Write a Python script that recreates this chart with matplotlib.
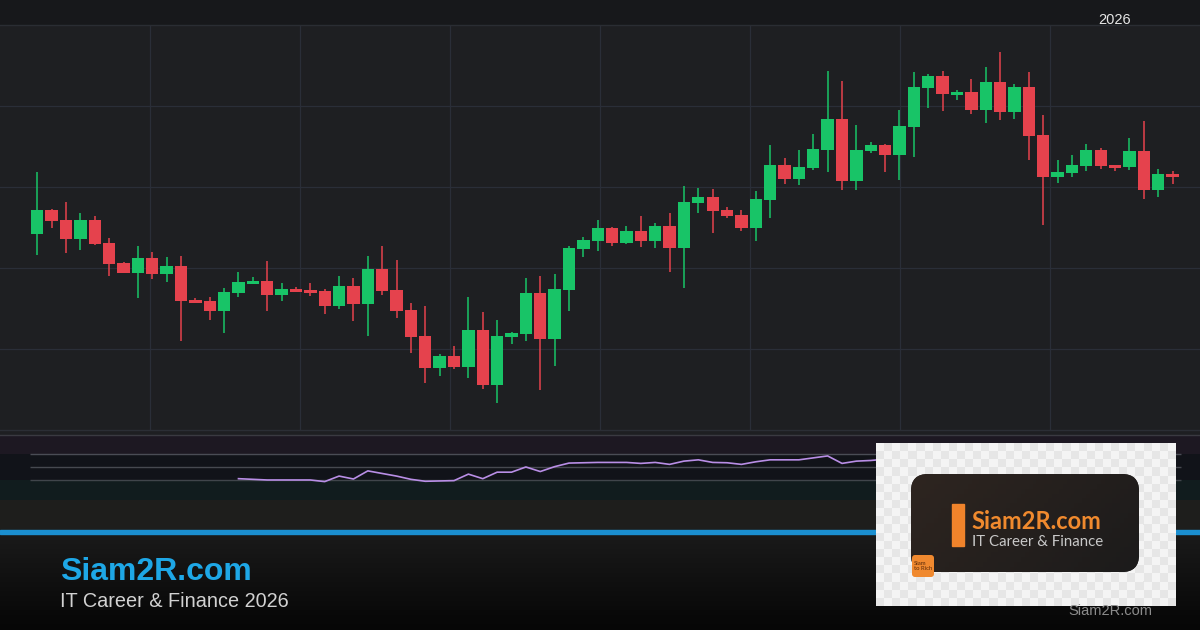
import numpy as np
import matplotlib.pyplot as plt
from matplotlib.patches import Rectangle, FancyBboxPatch
from matplotlib.colors import LinearSegmentedColormap, ListedColormap

# Daily candles (price units, 80 sessions)
opens = [196, 220, 210, 191, 210, 187, 167, 157, 172, 156,
         164, 130, 129, 119, 137, 146, 149, 135, 141, 140,
         139, 124, 144, 126, 161, 140, 120, 94, 62, 74,
         63, 100, 45, 93, 96, 137, 91, 140, 181, 189,
         202, 187, 199, 189, 204, 182, 227, 233, 220, 215,
         202, 230, 265, 251, 262, 280, 311, 249, 279, 285,
         275, 303, 342, 354, 335, 338, 320, 348, 318, 343,
         295, 253, 257, 264, 280, 265, 263, 279, 240, 256]
highs = [258, 221, 228, 217, 214, 192, 168, 184, 178, 173,
         174, 132, 133, 142, 158, 153, 169, 147, 143, 147,
         141, 154, 152, 174, 184, 170, 127, 124, 76, 84,
         133, 118, 110, 98, 152, 154, 156, 184, 193, 210,
         203, 204, 214, 207, 217, 244, 242, 241, 223, 220,
         239, 285, 272, 280, 296, 359, 349, 305, 288, 286,
         320, 358, 356, 359, 340, 351, 363, 378, 346, 358,
         315, 270, 275, 286, 282, 265, 292, 309, 261, 259]
lows = [175, 202, 177, 180, 185, 154, 157, 132, 151, 148,
        89, 127, 110, 97, 133, 146, 119, 129, 138, 134,
        116, 121, 109, 94, 135, 112, 77, 47, 54, 61,
        52, 41, 27, 86, 89, 40, 64, 119, 173, 179,
        184, 186, 183, 182, 158, 142, 217, 197, 212, 199,
        189, 212, 246, 245, 260, 258, 240, 240, 277, 258,
        250, 273, 322, 319, 330, 316, 307, 310, 311, 270,
        205, 247, 253, 259, 261, 259, 260, 231, 233, 246]
closes = [220, 209, 191, 210, 186, 166, 157, 172, 156, 164,
          129, 127, 119, 138, 148, 149, 135, 141, 138, 137,
          124, 144, 126, 161, 139, 119, 93, 62, 74, 63,
          100, 45, 94, 97, 137, 91, 141, 182, 190, 202,
          187, 199, 189, 204, 182, 228, 233, 219, 214, 202,
          231, 265, 251, 263, 281, 311, 249, 280, 285, 275,
          304, 343, 354, 336, 338, 320, 348, 318, 343, 294,
          253, 258, 265, 280, 264, 262, 279, 240, 256, 253]

# RSI(14), first value on candle 15
rsi_first = 14
rsi = [32, 31, 30, 30, 30, 30, 27.5, 36, 31.5, 44,
       40, 36, 31, 28, 28.5, 29, 39, 32, 42, 42,
       50, 43, 50.5, 56, 56.5, 57, 57, 57, 55.5, 57,
       54, 59, 61, 57, 56.5, 54, 58, 61, 61, 61,
       64, 67, 55.5, 59, 60, 62]
rsi_levels = [70, 50, 30]

UP, DOWN = '#18c467', '#e5424d'
W, H = 1200, 630
X0, STEP = 37.3, 14.37  # pixel of first candle, pixels per candle


def box(top, bottom):
    return [0, 1 - bottom / H, 1, (bottom - top) / H]


fig = plt.figure(figsize=(12, 6.3), dpi=100)
fig.patch.set_facecolor('#1e1e1e')

# background pieces
bg = fig.add_axes([0, 0, 1, 1], zorder=0)
bg.add_patch(Rectangle((0, 0), W, 25, color='#17181b'))
bg.add_patch(Rectangle((0, 430), W, 5, color='#1e1f22'))
bg.add_patch(Rectangle((0, 500), W, 34, color='#1e1e1c'))
fade = LinearSegmentedColormap.from_list('fade', ['#1a1a1a', '#060606'])
bg.imshow(np.linspace(0, 1, 100)[:, None], extent=(0, W, H, 534), cmap=fade, aspect='auto')
bg.add_patch(Rectangle((0, 530), W, 4, color='#1b8fd0'))
bg.set_xlim(0, W)
bg.set_ylim(H, 0)
bg.axis('off')

# candlesticks
ax = fig.add_axes(box(25, 430), zorder=1)
ax.set_facecolor('#1e1f22')
x = np.arange(len(opens))
o, h, l, c = map(np.array, (opens, highs, lows, closes))
colors = np.where(c >= o, UP, DOWN)
ax.vlines(x, l, h, colors=colors, lw=1.1, zorder=3)
ax.bar(x, np.maximum(np.abs(c - o), 2), bottom=np.minimum(o, c),
       width=0.86, color=colors, zorder=4)
xlim = (-X0 / STEP, (W - X0) / STEP)
ax.set_xlim(xlim)
ax.set_ylim(0, 405)
ax.set_yticks([81, 162, 243, 324])
ax.set_xticks([(px - X0) / STEP for px in range(150, 1200, 150)])
ax.grid(True, color='#2a2e38', lw=0.9)
ax.tick_params(length=0, labelleft=False, labelbottom=False)
for s in ax.spines.values():
    s.set_visible(False)

# RSI panel
rx = fig.add_axes(box(435, 500), zorder=1)
rx.set_facecolor('none')
rx.set_xlim(xlim)
rx.set_ylim(-0.8, 99.2)
rx.axhspan(70, 99.2, color='#1d1822', lw=0)
rx.axhspan(30, 70, color='#111319', lw=0)
rx.axhspan(-0.8, 30, color='#111c1e', lw=0)
for lv, col in zip(rsi_levels, ['#4a4c55', '#464950', '#40454b']):
    rx.hlines(lv, -0.5, 79.6, color=col, lw=1)
rx.plot(np.arange(rsi_first, rsi_first + len(rsi)), rsi, color='#b98ee6', lw=1.2)
rx.axis('off')

# overlay: separators, texts and logo card
ov = fig.add_axes([0, 0, 1, 1], zorder=5)
ov.set_facecolor('none')
ov.axhline(25, color='#2a2d33', lw=1)
ov.axhline(430, color='#2b2e35', lw=1)
ov.axhline(435, color='#3a3a41', lw=1)
ov.text(1115, 20, '2026', color='#e6e6e6', fontsize=10.5, ha='center', va='center',
        family='Liberation Sans')
ov.text(60, 580, 'Siam2R.com', color='#1ea7e6', fontsize=23, fontweight='bold',
        family='Liberation Sans', ha='left', va='baseline')
ov.text(60, 607, 'IT Career & Finance 2026', color='#d2d2d2', fontsize=14.3,
        family='Liberation Sans', ha='left', va='baseline')
ov.text(1110, 615, 'Siam2R.com', color='#8c8c8c', fontsize=10.5,
        family='Liberation Sans', ha='center', va='baseline')

checks = np.indices((20, 37)).sum(axis=0) % 2
ov.imshow(checks, extent=(876, 1176, 606, 443), cmap=ListedColormap(['#f4f4f4', '#e6e6e6']),
          interpolation='bilinear', aspect='auto', zorder=2)
card = FancyBboxPatch((911, 474), 228, 98, boxstyle='round,pad=0,rounding_size=17',
                      fc='#221e1d', ec='none', zorder=3)
ov.add_patch(card)
shade = LinearSegmentedColormap.from_list('shade', ['#2e2520', '#1c1b1b'])
im = ov.imshow(np.add.outer(np.linspace(0, 0.3, 20), np.linspace(0, 0.7, 60)),
               extent=(911, 1139, 572, 474), cmap=shade, vmin=0, vmax=1,
               aspect='auto', zorder=3.5)
im.set_clip_path(card)
ov.add_patch(Rectangle((952, 504), 12, 42, color='#f0832b', zorder=4))
ov.text(971, 529, 'Siam2R.com', color='#f08a2e', fontsize=17, fontweight='bold',
        family='Lato', ha='left', va='baseline', zorder=4)
ov.text(972, 546, 'IT Career & Finance', color='#c8c8c8', fontsize=10.8,
        family='Lato', ha='left', va='baseline', zorder=4)
ov.add_patch(FancyBboxPatch((912, 555), 22, 22, boxstyle='round,pad=0,rounding_size=3',
                            fc='#f0892f', ec='none', zorder=4))
ov.text(914, 566, 'Siam\nto Rich', color='#5a2a0a', fontsize=4.3, ha='left', va='center',
        linespacing=1.0, family='Lato', zorder=5)
ov.set_xlim(0, W)
ov.set_ylim(H, 0)
ov.axis('off')

fig.savefig('out.png', dpi=100, facecolor=fig.get_facecolor())
